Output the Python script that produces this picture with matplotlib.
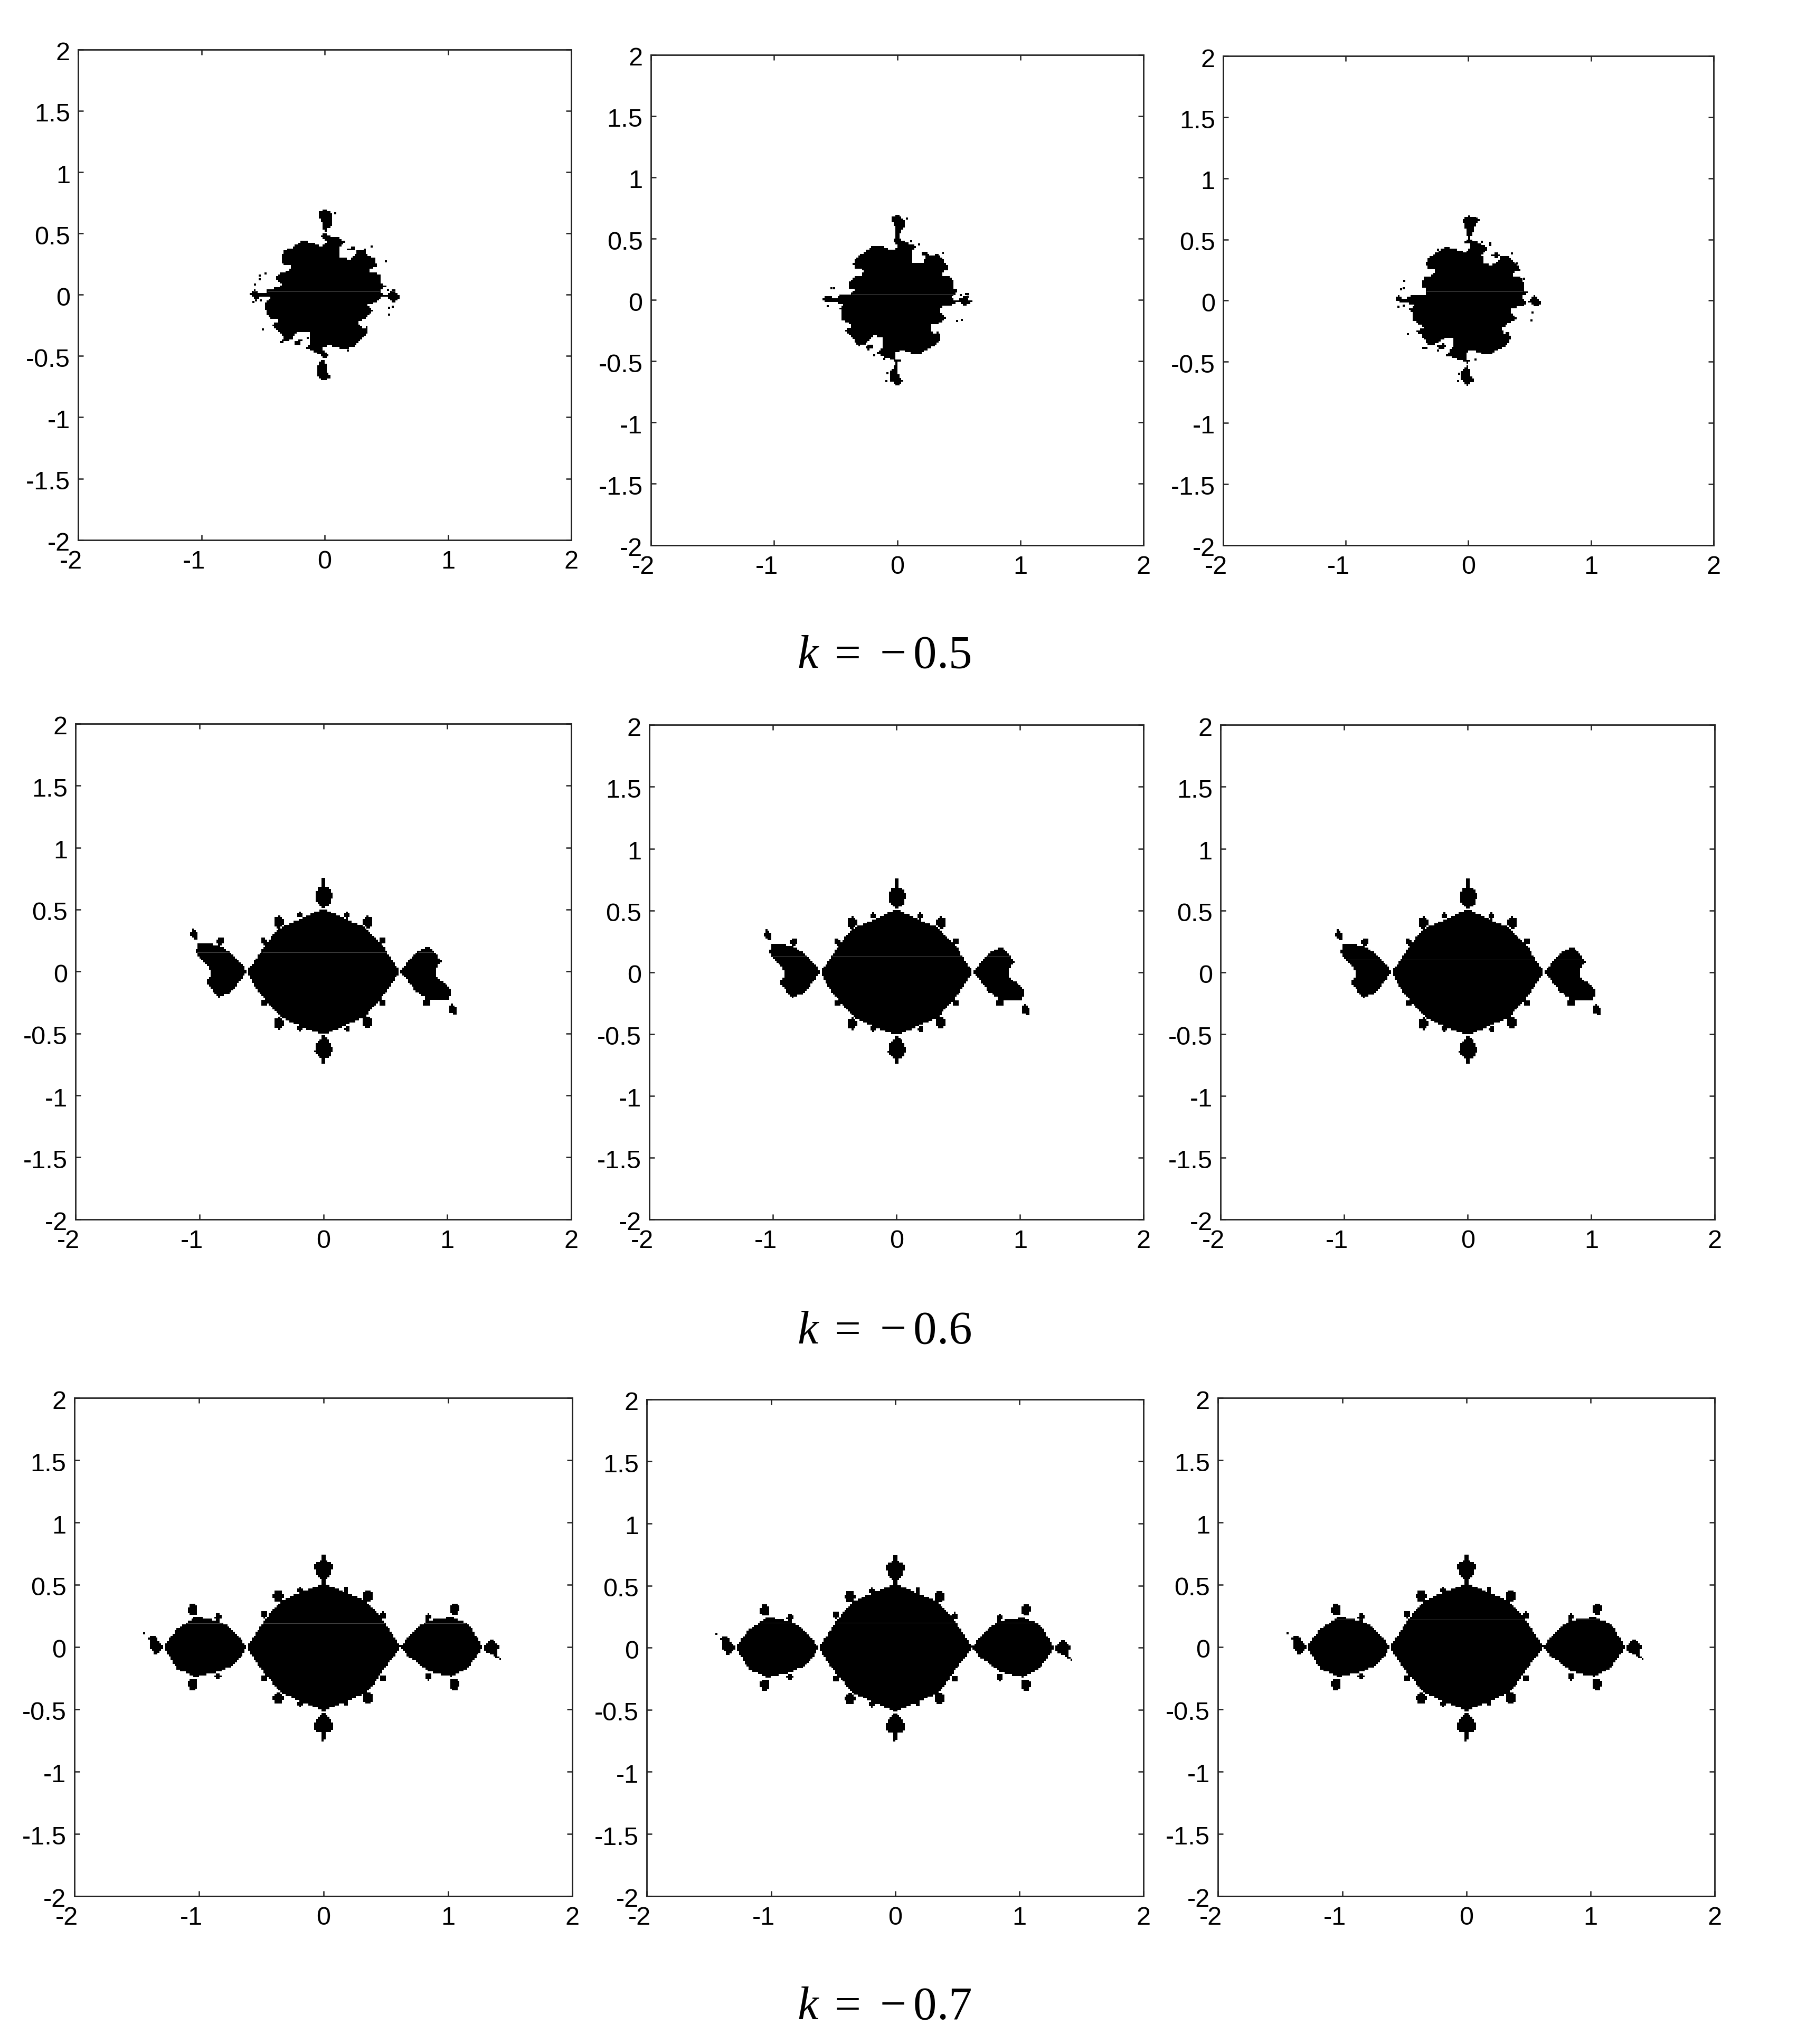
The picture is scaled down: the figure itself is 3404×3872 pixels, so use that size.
import numpy as np
import matplotlib
matplotlib.use('Agg')
import matplotlib.pyplot as plt
from matplotlib.path import Path
from matplotlib.transforms import ScaledTranslation

plt.rcParams['font.family'] = ['Liberation Sans', 'DejaVu Sans']
plt.rcParams['mathtext.fontset'] = 'custom'
plt.rcParams['mathtext.rm'] = 'Liberation Serif'
plt.rcParams['mathtext.it'] = 'Liberation Serif:italic'

WIDTH, HEIGHT = 3404, 3872
DPI = 100
GRID = 264  # the originals are low resolution images, one cell is about 3.5 px

X_TICKS = [-2, -1, 0, 1, 2]
X_LABELS = ['-2', '-1', '0', '1', '2']
Y_TICKS = [-2, -1.5, -1, -0.5, 0, 0.5, 1, 1.5, 2]
Y_LABELS = ['-2', '-1.5', '-1', '-0.5', '0', '0.5', '1', '1.5', '2']

ROW_TITLES = ['0.5', '0.6', '0.7']

# k = -0.5, outlines
K05_P1 = [(-.607,.007),(-.571,.043),(-.536,.014),(-.486,.007),(-.464,.043),(-.364,.064),(-.35,.093),(-.386,.114),
          (-.393,.15),(-.35,.186),(-.293,.193),(-.271,.236),(-.321,.243),(-.35,.264),(-.35,.307),(-.329,.357),
          (-.25,.393),(-.186,.436),(-.1,.429),(-.021,.393),(.014,.436),(-.036,.479),(0,.507),(-.014,.564),
          (-.043,.636),(-.05,.679),(0,.696),(.057,.664),(.064,.564),(.014,.543),(.007,.507),(.031,.479),
          (.107,.471),(.164,.429),(.114,.371),(.121,.3),(.214,.293),(.271,.364),(.34,.376),(.329,.336),
          (.4,.3),(.429,.236),(.36,.2),(.36,.18),(.41,.19),(.45,.157),(.464,.079),(.5,.071),(.443,.029),
          (.479,0),(.5,-.005),(.564,.05),(.607,-.014),(.564,-.064),(.5,-.01),(.45,-.02),(.414,-.064),(.35,-.079),
          (.393,-.136),(.33,-.19),(.271,-.221),(.3,-.27),(.343,-.264),(.35,-.314),(.243,-.414),(.157,-.443),
          (.021,-.407),(-.021,-.443),(.029,-.493),(.005,-.52),(.007,-.55),(.014,-.621),(.05,-.671),(0,-.704),
          (-.064,-.664),(-.05,-.557),(-.004,-.52),(-.029,-.493),(-.164,-.429),(-.114,-.4),(-.129,-.307),
          (-.214,-.3),(-.271,-.364),(-.371,-.4),(-.329,-.35),(-.429,-.25),(-.364,-.207),(-.457,-.186),
          (-.493,-.071),(-.436,-.021),(-.507,-.014),(-.571,-.036)]
K05_P1_ISLANDS = [[(.186,.371),(.221,.396),(.264,.381),(.221,.364)],
                  [(-.243,-.386),(-.186,-.357),(-.193,-.4),(-.243,-.407)]]
K05_P1_SPECKS = [(-.479,.174),(-.529,.156),(-.529,.127),(-.564,.083),(-.579,-.057),(-.557,-.047),(-.517,-.047),
                 (-.5,-.283),(.496,.274),(.514,.039),(.524,-.107),(.554,-.097),(.524,-.164),(.379,.393),
                 (-.139,-.35),(.189,-.457),(.086,.664)]

K05_P2 = [(-.61,.003),(-.564,.039),(-.5,.01),(-.464,.046),(-.379,.053),(-.35,.089),(-.386,.096),(-.396,.146),
          (-.357,.189),(-.3,.196),(-.271,.239),(-.3,.27),(-.336,.246),(-.361,.289),(-.329,.353),(-.25,.403),
          (-.186,.446),(-.1,.431),(-.029,.399),(.014,.439),(-.036,.489),(-.007,.51),(-.01,.56),(-.036,.639),
          (-.053,.674),(.007,.696),(.057,.653),(.057,.603),(.029,.553),(.007,.51),(.05,.479),(.164,.439),
          (.114,.389),(.114,.324),(.136,.296),(.207,.303),(.236,.36),(.329,.374),(.393,.303),(.421,.253),
          (.364,.224),(.364,.196),(.414,.203),(.457,.146),(.457,.096),(.49,.081),(.45,.039),(.429,.017),
          (.479,-.004),(.55,.031),(.607,-.011),(.55,-.047),(.493,-.011),(.443,-.04),(.35,-.054),(.343,-.09),
          (.393,-.147),(.336,-.19),(.279,-.204),(.264,-.247),(.3,-.276),(.329,-.247),(.357,-.304),(.321,-.361),
          (.236,-.404),(.179,-.44),(.107,-.433),(.036,-.404),(-.021,-.44),(-.007,-.483),(.043,-.49),(0,-.504),
          (-.007,-.554),(.007,-.604),(.043,-.661),(0,-.697),(-.057,-.661),(-.057,-.576),(-.007,-.519),
          (-.021,-.497),(-.164,-.433),(-.114,-.383),(-.121,-.311),(-.186,-.29),(-.264,-.361),(-.321,-.376),
          (-.379,-.29),(-.429,-.247),(-.364,-.211),(-.4,-.183),(-.45,-.161),(-.464,-.069),(-.436,-.033),
          (-.5,-.019),(-.564,-.019)]
K05_P2_ISLANDS = [[(-.257,-.376),(-.193,-.359),(-.193,-.397),(-.243,-.404)],
                  [(-.379,-.393),(-.343,-.383),(-.343,-.397)],
                  [(.186,.374),(.229,.403),(.264,.367),(.214,.36)],
                  [(.343,.389),(.379,.396),(.379,.385)]]
K05_P2_SPECKS = [(-.533,.094),(-.511,.094),(-.564,-.05),(.464,.046),(.514,.041),(.557,.046),(.574,.046),(.571,.027),
                 (.486,-.173),(.524,-.164),(-.186,-.45),(-.107,-.483),(.079,.663),(.114,.477),(.179,.453),
                 (-.079,-.597),(-.086,-.661)]

K05_P3 = [(-.6,.02),(-.561,.043),(-.526,.01),(-.469,.039),(-.426,.053),(-.354,.053),(-.347,.096),(-.39,.117),
          (-.361,.189),(-.304,.196),(-.271,.231),(-.276,.267),(-.319,.246),(-.351,.303),(-.319,.353),(-.254,.396),
          (-.183,.439),(-.097,.417),(-.019,.396),(.014,.424),(.017,.467),(-.033,.474),(-.004,.51),(-.011,.553),
          (-.026,.61),(-.047,.66),(.003,.696),(.086,.66),(.053,.603),(.031,.546),(.006,.503),(.103,.467),
          (.167,.424),(.11,.381),(.124,.31),(.181,.289),(.231,.31),(.267,.367),(.317,.367),(.396,.289),
          (.424,.246),(.36,.231),(.36,.196),(.417,.203),(.453,.146),(.46,.081),(.489,.067),(.431,.031),
          (.439,.01),(.474,.003),(.474,-.033),(.396,-.054),(.353,-.069),(.353,-.104),(.396,-.14),(.36,-.169),
          (.274,-.219),(.289,-.269),(.324,-.254),(.353,-.304),(.317,-.361),(.231,-.404),(.174,-.447),(.103,-.433),
          (.017,-.404),(-.019,-.44),(-.011,-.49),(.039,-.476),(.003,-.511),(-.019,-.504),(-.183,-.447),
          (-.119,-.369),(-.119,-.311),(-.183,-.297),(-.261,-.354),(-.326,-.371),(-.383,-.283),(-.426,-.247),
          (-.361,-.219),(-.404,-.19),(-.454,-.161),(-.454,-.09),(-.49,-.069),(-.433,-.04),(-.49,-.019),(-.561,-.011)]
K05_P3_ISLANDS = [[(-.004,-.526),(.024,-.626),(.046,-.654),(-.004,-.697),(-.061,-.64),(-.054,-.583)],
                  [(.489,-.011),(.539,.046),(.6,-.019),(.553,-.051)],
                  [(.174,.36),(.217,.396),(.26,.374),(.231,.353)],
                  [(-.26,-.36),(-.197,-.354),(-.183,-.369),(-.226,-.404)],
                  [(-.383,-.39),(-.34,-.376),(-.34,-.39)],
                  [(.331,.381),(.371,.396),(.371,.38)]]
K05_P3_SPECKS = [(-.523,.16),(-.551,.093),(-.526,.1),(-.569,-.05),(-.526,-.043),(-.494,-.276),(-.247,.417),
                 (-.247,-.409),(.057,-.483),(.11,.479),(.179,.473),(.179,.453),(.396,.303),(.453,.177),
                 (.523,-.097),(.516,-.161),(-.076,-.597),(-.083,-.661),(.067,.673)]

# k = -0.6, the three panels are nearly the same
K06_MAIN = [(-.616,0),(-.55,.093),(-.502,.156),(-.469,.219),(-.404,.296),(-.331,.365),(-.208,.414),(-.111,.463),
            (0,.502),(.101,.463),(.215,.407),(.329,.365),(.394,.303),(.476,.219),(.516,.149),(.565,.079),(.617,0),
            (.565,-.081),(.516,-.151),(.459,-.227),(.394,-.297),(.329,-.374),(.215,-.416),(.117,-.464),(0,-.509),
            (-.111,-.471),(-.208,-.43),(-.331,-.374),(-.404,-.297),(-.469,-.227),(-.534,-.151)]
K06_PARTS = [[(0,.51),(-.054,.554),(-.07,.623),(-.037,.679),(0,.693),(.044,.679),(.077,.623),(.06,.554)],
             [(-.02,.734),(0,.77),(.02,.734),(.01,.69),(-.01,.69)],
             [(0,-.513),(-.054,-.576),(-.07,-.646),(-.037,-.688),(0,-.702),(.044,-.688),(.077,-.646),(.06,-.576)],
             [(-.02,-.709),(0,-.768),(.02,-.709),(.01,-.69),(-.01,-.69)],
             [(-.616,0),(-.664,.066),(-.73,.135),(-.762,.163),(-.844,.212),(-.941,.226),(-1.007,.226),(-1.031,.156),
              (-.982,.093),(-.925,.045),(-.906,-.032),(-.95,-.088),(-.901,-.144),(-.844,-.213),(-.746,-.165),(-.681,-.088)],
             [(-1.059,.351),(-1.015,.31),(-1.015,.254),(-1.047,.261),(-1.083,.296),(-1.055,.324)],
             [(.617,0),(.671,.066),(.752,.156),(.85,.205),(.956,.086),(.907,.024),(.915,-.046),(.98,-.095),
              (1.037,-.158),(1.01,-.234),(.842,-.22),(.744,-.158),(.687,-.081)],
             [(1.029,-.255),(1.086,-.304),(1.062,-.36),(1.013,-.318)]]
K06_BUD_X = [-.358,.358,-.358,.358,-.193,.191,-.193,.191,-.479,.476,-.479,.476,-.831,.834]
K06_BUD_Y = [.4,.4,-.416,-.409,.455,.455,-.455,-.46,.245,.25,-.25,-.25,.247,-.248]
K06_BUD_R = [.04,.04,.04,.04,.02,.02,.02,.02,.024,.024,.024,.024,.028,.028]

# k = -0.7
K07_MAIN = [(-.617,0),(-.549,.103),(-.488,.193),(-.405,.305),(-.333,.374),(-.189,.437),(0,.513),(.181,.437),
            (.335,.374),(.449,.263),(.49,.193),(.551,.103),(.619,0),(.551,-.092),(.469,-.196),(.407,-.293),
            (.335,-.37),(.181,-.439),(0,-.513),(-.169,-.446),(-.333,-.37),(-.416,-.28),(-.498,-.182),(-.56,-.092)]
K07_PARTS = [[(0,.513),(-.05,.57),(-.072,.63),(-.078,.665),(-.03,.69),(0,.697),(.03,.69),(.078,.665),(.072,.63),(.05,.57)],
             [(-.021,.708),(0,.77),(.021,.708),(.01,.69),(-.01,.69)],
             [(0,-.516),(-.06,-.58),(-.075,-.64),(-.07,-.67),(0,-.697),(.075,-.67),(.075,-.64),(.06,-.58)],
             [(-.025,-.711),(0,-.769),(.021,-.711),(.01,-.69),(-.01,-.69)],
             [(-.617,0),(-.683,.09),(-.765,.174),(-.827,.202),(-.93,.231),(-1.033,.241),(-1.115,.188),(-1.187,.139),
              (-1.239,.063),(-1.28,0),(-1.228,-.092),(-1.177,-.175),(-1.033,-.241),(-.848,-.2),(-.745,-.16),(-.663,-.078)],
             [(-1.284,-.007),(-1.346,-.068),(-1.393,-.008),(-1.403,.075),(-1.362,.096),(-1.321,.047)],
             [(.619,0),(.685,.089),(.778,.179),(.84,.214),(1.035,.242),(1.169,.179),(1.23,.082),(1.272,0),(1.22,-.092),
              (1.148,-.175),(1.025,-.238),(.84,-.196),(.747,-.12),(.685,-.085)],
             [(1.282,.006),(1.344,.068),(1.407,.006),(1.387,-.057),(1.44,-.113),(1.36,-.07),(1.3,-.04)]]
K07_BUD_X = [-.364,.356,-.364,.356,-.477,.479,-.477,.479,-.189,.181,-.189,.181,-1.049,1.049,-1.049,1.049,-.848,.84,-.848,.84]
K07_BUD_Y = [.409,.409,-.412,-.412,.263,.256,-.252,-.252,.458,.458,-.455,-.455,.3,.305,-.3,-.3,.242,.242,-.238,-.238]
K07_BUD_R = [.04,.04,.04,.04,.024,.024,.024,.024,.02,.02,.02,.02,.04,.04,.04,.04,.024,.024,.024,.024]
K07_SPECKS = [(-1.44,.11)]

# thin grey seam left in each picture, one height per panel
SEAM_Y = [[.027, .05, .077], [.156, .13, .10], [.19, .2, .22]]

# axes boxes in pixels of the shrunk view: left, right, top, bottom
S = 3404 / 1378
BOXES = [[(60, 438, 38, 414), (499, 877, 42, 418), (938, 1314, 43, 418)],
         [(58, 438, 555, 935), (498, 877, 556, 935), (936, 1315, 556, 935)],
         [(57, 439, 1072, 1454), (496, 877, 1073, 1454), (934, 1315, 1072, 1454)]]
TITLE_BASE = [1265, 2545, 3825]
TITLE_X = 1675


def make_mask(polys, bud_x=(), bud_y=(), bud_r=()):
    c = (np.arange(GRID) + 0.5) * 4 / GRID - 2
    xx, yy = np.meshgrid(c, c)
    cells = np.column_stack([xx.ravel(), yy.ravel()])
    mask = np.zeros(GRID * GRID, dtype=bool)
    for p in polys:
        mask |= Path(np.array(p + [p[0]])).contains_points(cells)
    mask = mask.reshape(GRID, GRID)
    for x, y, r in zip(bud_x, bud_y, bud_r):
        mask |= np.hypot(xx - x, (yy - y) * 0.85) < r
    return c, mask


def draw_panel(ax, polys, specks, seam, buds=((), (), ())):
    c, mask = make_mask(polys, *buds)
    ax.imshow(~mask, cmap='gray', vmin=0, vmax=1, origin='lower', extent=[-2, 2, -2, 2],
              aspect='auto', interpolation='nearest')
    if specks:
        sp = np.array(specks)
        ax.scatter(sp[:, 0], sp[:, 1], s=8, marker='s', color='black', linewidths=0)
    row = mask[np.argmin(np.abs(c - seam))]
    ax.plot(c, np.where(row, seam, np.nan), color='#444444', lw=0.7, solid_capstyle='butt')

    ax.set_xlim(-2, 2)
    ax.set_ylim(-2, 2)
    ax.set_xticks(X_TICKS, X_LABELS)
    ax.set_yticks(Y_TICKS, Y_LABELS)
    ax.tick_params(direction='in', length=7, width=1.8, color='#222222', top=True, right=True, labelsize=35)
    ax.tick_params(axis='x', pad=14)
    ax.tick_params(axis='y', pad=11)
    for s in ax.spines.values():
        s.set_linewidth(2.0)
        s.set_color('#222222')
    # negative x labels sit left of their ticks, y labels a little low
    for lab, tick in zip(ax.get_xticklabels(), X_TICKS):
        if tick < 0:
            lab.set_transform(lab.get_transform() + ScaledTranslation(-14 / DPI, 0, fig.dpi_scale_trans))
    for lab in ax.get_yticklabels():
        lab.set_transform(lab.get_transform() + ScaledTranslation(0, -3 / DPI, fig.dpi_scale_trans))


fig = plt.figure(figsize=(WIDTH / DPI, HEIGHT / DPI), dpi=DPI, facecolor='white')

panels = [
    [([K05_P1] + K05_P1_ISLANDS, K05_P1_SPECKS, ()),
     ([K05_P2] + K05_P2_ISLANDS, K05_P2_SPECKS, ()),
     ([K05_P3] + K05_P3_ISLANDS, K05_P3_SPECKS, ())],
    [([K06_MAIN] + K06_PARTS, [], (K06_BUD_X, K06_BUD_Y, K06_BUD_R))] * 3,
    [([K07_MAIN] + K07_PARTS, K07_SPECKS, (K07_BUD_X, K07_BUD_Y, K07_BUD_R))] * 3,
]

for i in range(3):
    for j in range(3):
        left, right, top, bottom = [v * S for v in BOXES[i][j]]
        ax = fig.add_axes([left / WIDTH, 1 - bottom / HEIGHT, (right - left) / WIDTH, (bottom - top) / HEIGHT])
        polys, specks, buds = panels[i][j]
        if buds:
            draw_panel(ax, polys, specks, SEAM_Y[i][j], buds)
        else:
            draw_panel(ax, polys, specks, SEAM_Y[i][j])
    fig.text(TITLE_X / WIDTH, 1 - TITLE_BASE[i] / HEIGHT, r'$k\;=\,-' + ROW_TITLES[i] + '$',
             fontsize=64, ha='center', va='baseline', color='black')

fig.savefig('out.png', dpi=DPI)
